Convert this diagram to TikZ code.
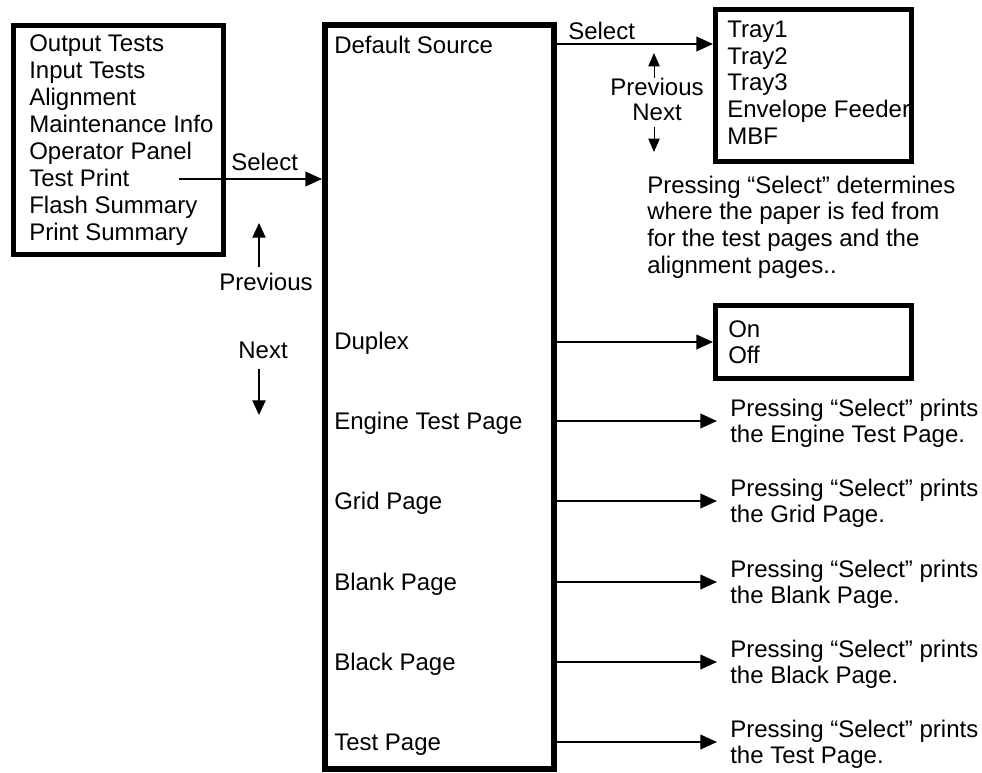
\documentclass[tikz,border=0pt]{standalone}
\usepackage{fontspec}
\setmainfont{Liberation Sans}
\usetikzlibrary{arrows.meta}
\begin{document}
\begin{tikzpicture}[x=0.75pt,y=-0.75pt,
 txt/.style={anchor=base west, inner sep=0, align=left, font=\fontsize{18}{20}\selectfont},
 ctxt/.style={anchor=base, inner sep=0, font=\fontsize{18}{20}\selectfont},
 box/.style={draw, line width=3.75pt, inner sep=0},
 arr/.style={line width=1.3pt, -{Triangle[length=12.5pt,width=11pt]}},
 nav/.style={line width=0.8pt, -{Triangle[length=11pt,width=10pt]}},
 navs/.style={line width=0.7pt, -{Triangle[length=10pt,width=8.5pt]}},
]
\useasboundingbox (0,0) rectangle (982,772);

% boxes
\node[box, minimum width=157.5pt, minimum height=171.75pt] (menu) at (118.5,140) {};
\node[box, line width=4.5pt, minimum width=171.75pt, minimum height=558pt] (main) at (439.5,397) {};
\node[box, minimum width=147pt, minimum height=114pt] (trays) at (813.5,85.5) {};
\node[box, minimum width=147pt, minimum height=54.75pt] (onoff) at (813.5,342) {};

% left menu (base anchor = baseline of last line)
\node[txt, font=\fontsize{18}{20.2}\selectfont] (menutext) at (29,240)
 {Output Tests\\Input Tests\\Alignment\\Maintenance Info\\Operator Panel\\Test Print\\Flash Summary\\Print Summary};
\node[txt] (sel1) at (231,170) {Select};
\coordinate (tp) at (179,179);
\draw[arr] (tp) -- (main.west |- tp);

\node[ctxt] (prev1) at (266,290) {Previous};
\coordinate (p1a) at (259,267); \coordinate (p1b) at (259,223);
\draw[nav] (p1a) -- (p1b);
\node[ctxt] (next1) at (263,358) {Next};
\coordinate (n1a) at (259,369); \coordinate (n1b) at (259,415);
\draw[nav] (n1a) -- (n1b);

% main items
\node[txt] (ds)  at (334,53)  {Default Source};
\node[txt] (dup) at (334,349) {Duplex};
\node[txt] (etp) at (334,429) {Engine Test Page};
\node[txt] (gp)  at (334,509) {Grid Page};
\node[txt] (bp)  at (334,590) {Blank Page};
\node[txt] (blk) at (334,670) {Black Page};
\node[txt] (tpg) at (334,750) {Test Page};

% trays
\coordinate (selrow) at (600,44);
\draw[arr] (main.east |- selrow) -- (trays.west |- selrow);
\node[txt] (sel2) at (568,39) {Select};
\coordinate (p2a) at (654,78); \coordinate (p2b) at (654,53);
\draw[navs] (p2a) -- (p2b);
\node[ctxt] (prev2) at (657,95) {Previous};
\node[ctxt] (next2) at (657,120) {Next};
\coordinate (n2a) at (654,127); \coordinate (n2b) at (654,152);
\draw[navs] (n2a) -- (n2b);
\node[txt, font=\fontsize{18}{19.9}\selectfont] (traytext) at (727,144)
 {Tray1\\Tray2\\Tray3\\Envelope Feeder\\MBF};
\node[txt] (desc) at (647,273)
 {Pressing “Select” determines\\where the paper is fed from\\for the test pages and the\\alignment pages..};

% duplex
\draw[arr] (main.east |- onoff.west) -- (onoff.west);
\node[txt, font=\fontsize{18}{19.5}\selectfont] (onofftext) at (728,363) {On\\Off};

% print actions
\foreach \n/\y/\t in {e/421/Engine Test Page, g/501/Grid Page, b/582/Blank Page, k/662/Black Page, t/742/Test Page}{
  \coordinate (tip\n) at (717,\y);
  \draw[arr] (main.east |- tip\n) -- (tip\n);
  \node[txt, font=\fontsize{18}{19.5}\selectfont] (d\n) at (730,\y+21)
   {Pressing “Select” prints\\the \t.};
}
\end{tikzpicture}
\end{document}
